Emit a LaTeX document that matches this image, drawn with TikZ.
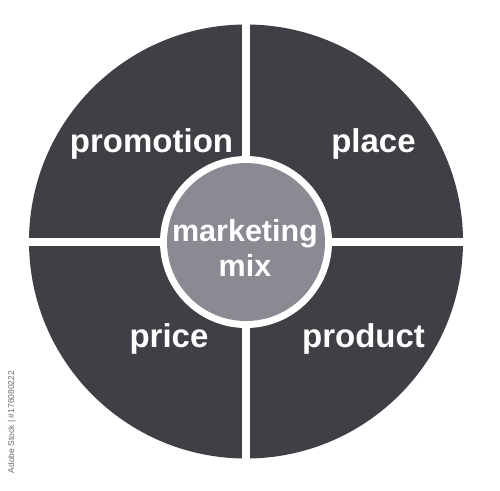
\documentclass[tikz,border=0pt]{standalone}
\usepackage{fontspec}
\setmainfont{Liberation Sans}
\definecolor{darkq}{RGB}{63,64,69}
\definecolor{midq}{RGB}{137,138,146}
\definecolor{markg}{RGB}{105,105,105}
\begin{document}
\begin{tikzpicture}[x=1pt,y=-1pt,
  lbl/.style={text=white,font=\bfseries\fontsize{33}{38}\selectfont,anchor=base,inner sep=0pt},
  midlbl/.style={text=white,font=\bfseries\fontsize{30.5}{35}\selectfont,align=center,inner sep=0pt}]
\useasboundingbox (0,0) rectangle (500,490);
\fill[white] (0,0) rectangle (500,490);
% outer disc
\fill[darkq] (246,241.5) circle (217);
% white cross
\fill[white] (242,20) rectangle (250,465);
\fill[white] (24,237.5) rectangle (468,245.5);
% centre
\fill[white] (246,242) circle (86);
\fill[midq] (246,242) circle (79);
% labels
\node[lbl] (promotion) at (151.5,152) {promotion};
\node[lbl] (place) at (373.5,152) {place};
\node[lbl] (price) at (169,347) {price};
\node[lbl] (product) at (363.5,347) {product};
\node[lbl,font=\bfseries\fontsize{30.5}{35}\selectfont] (mk) at (245,241) {marketing};
\node[lbl,font=\bfseries\fontsize{30.5}{35}\selectfont] (mix) at (245,276) {mix};
% side mark
\node[text=markg,font=\fontsize{8.5}{10}\selectfont,rotate=90,inner sep=0pt] (mark) at (12,422) {Adobe Stock | \#176080222};
\end{tikzpicture}
\end{document}
